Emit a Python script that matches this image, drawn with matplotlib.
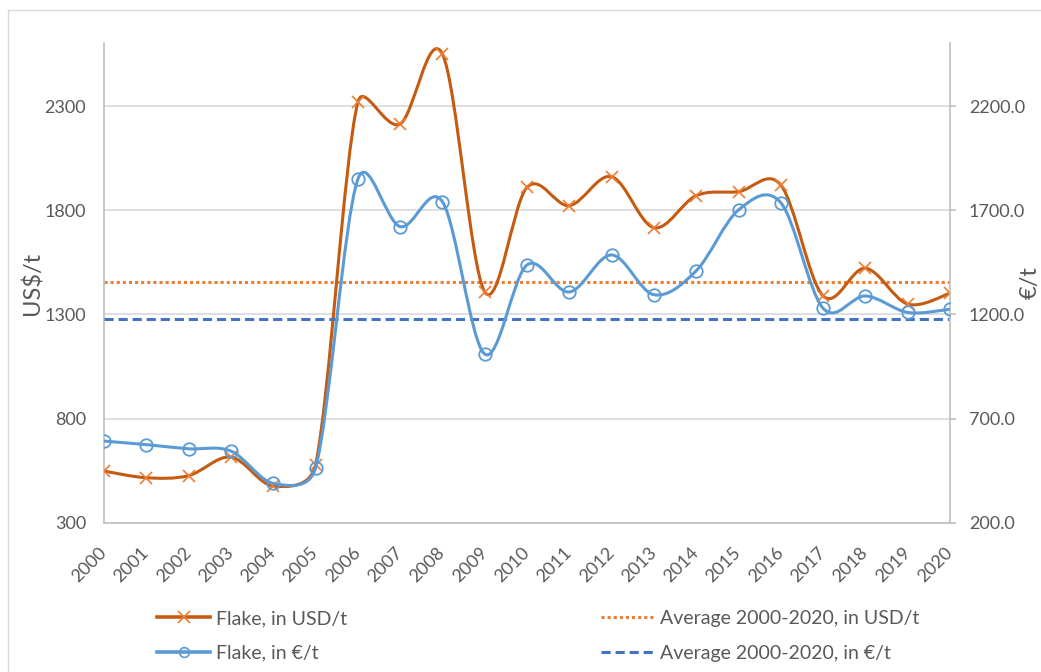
import matplotlib
matplotlib.use("Agg")
import matplotlib.pyplot as plt
from matplotlib.path import Path
from matplotlib.patches import PathPatch, Rectangle
from matplotlib.lines import Line2D
import matplotlib.transforms as mtrans
import numpy as np

plt.rcParams['font.family'] = ['Lato', 'DejaVu Sans']

years = [str(y) for y in range(2000, 2021)]
flake_usd = [548, 516, 526, 615, 476, 577, 2319, 2215, 2551, 1409, 1911, 1823,
             1962, 1717, 1871, 1890, 1922, 1389, 1522, 1350, 1402]
flake_eur = [592, 575, 555, 544, 389, 461, 1849, 1622, 1742, 1010, 1438, 1308,
             1486, 1295, 1410, 1702, 1737, 1230, 1289, 1210, 1225]
avg_usd = 1455
avg_eur = 1177
left_ticks = [300, 800, 1300, 1800, 2300]
right_ticks = [200, 700, 1200, 1700, 2200]

C_USD = '#C55A11'
C_USD_M = '#ED7D31'
C_EUR = '#5B9BD5'
C_AVG_USD = '#ED7D31'
C_AVG_EUR = '#4472C4'
GRID = '#D9D9D9'
TXT = '#595959'


def excel_smooth(axis, xs, ys, f=1 / 6):
    """Excel-like smoothed line: Catmull-Rom Bezier arms, each limited to half
    the segment length, computed in display space, returned in data space."""
    pts = axis.transData.transform(np.column_stack([xs, ys]).astype(float))
    n = len(pts)
    ext = np.vstack([pts[0], pts, pts[-1]])
    verts = [pts[0]]
    codes = [Path.MOVETO]
    for i in range(n - 1):
        p0, p1, p2, p3 = ext[i], ext[i + 1], ext[i + 2], ext[i + 3]
        d12 = np.linalg.norm(p2 - p1)
        d02 = np.linalg.norm(p2 - p0)
        d13 = np.linalg.norm(p3 - p1)
        f0 = f if d02 * f < d12 / 2 else (d12 / (2 * d02) if d02 > 0 else 0)
        f1 = f if d13 * f < d12 / 2 else (d12 / (2 * d13) if d13 > 0 else 0)
        c1 = p1 + (p2 - p0) * f0
        c2 = p2 - (p3 - p1) * f1
        verts += [c1, c2, p2]
        codes += [Path.CURVE4] * 3
    data = axis.transData.inverted().transform(np.array(verts))
    return Path(data, codes)


fig = plt.figure(figsize=(10.41, 6.72), dpi=100)
fig.patches.append(Rectangle((8 / 1041, -0.1), 1.2, 1 - 10 / 672 + 0.1,
                             transform=fig.transFigure, fill=False,
                             edgecolor='#D9D9D9', linewidth=1.0))

ax = fig.add_axes([104 / 1041, 1 - 522.7 / 672, (950 - 104) / 1041, (522.7 - 43) / 672])
ax2 = ax.twinx()

x = np.arange(len(years))

ax.set_xlim(0, len(years) - 1)
ax.set_ylim(300, 2604)
ax2.set_ylim(200, 2504)

ax.set_yticks(left_ticks)
ax.set_yticklabels([str(v) for v in left_ticks])
ax2.set_yticks(right_ticks)
ax2.set_yticklabels([f"{v:.1f}" for v in right_ticks])
ax.set_xticks(x)
ax.set_xticklabels(years, rotation=45, ha='right', va='center', rotation_mode='anchor')
shift = mtrans.ScaledTranslation(5 / 100, 0, fig.dpi_scale_trans)
for lab in ax.get_xticklabels():
    lab.set_transform(lab.get_transform() + shift)

ax.grid(axis='y', color=GRID, linewidth=1.2)
ax.set_axisbelow(True)

ax.spines['top'].set_visible(False)
ax2.spines['top'].set_visible(False)
for sp in [ax.spines['left'], ax.spines['bottom'], ax2.spines['right']]:
    sp.set_color('#BFBFBF')
    sp.set_linewidth(1.2)
ax.spines['right'].set_visible(False)
ax2.spines['left'].set_visible(False)
ax2.spines['bottom'].set_visible(False)

ax.tick_params(axis='y', length=0, labelsize=13, labelcolor=TXT, pad=13)
ax.tick_params(axis='x', length=0, labelsize=13, labelcolor=TXT, pad=20)
ax2.tick_params(axis='y', length=4.5, color='#BFBFBF', width=1.2, labelsize=13,
                labelcolor=TXT, pad=9)

# averages
ax.axhline(avg_usd, color=C_AVG_USD, linestyle=(0, (1, 1)), linewidth=2.2, zorder=2)
ax2.axhline(avg_eur, color=C_AVG_EUR, linestyle=(0, (3, 1.6)), linewidth=2.2, zorder=2)

# smooth lines
ax.add_patch(PathPatch(excel_smooth(ax, x, flake_usd), fill=False, edgecolor=C_USD,
                       linewidth=2.2, zorder=3, capstyle='round'))
ax.plot(x, flake_usd, linestyle='none', marker='x', markersize=8,
        markeredgecolor=C_USD_M, markeredgewidth=1.2, zorder=4)
ax2.add_patch(PathPatch(excel_smooth(ax2, x, flake_eur), fill=False, edgecolor=C_EUR,
                        linewidth=2.2, zorder=3, capstyle='round'))
ax2.plot(x, flake_eur, linestyle='none', marker='o', markersize=9,
         markerfacecolor='none', markeredgecolor=C_EUR, markeredgewidth=1.3, zorder=4)

fig.text(32 / 1041, 1 - 283 / 672, 'US$/t', rotation=90, ha='center', va='center',
         fontsize=17, color=TXT)
fig.text(1030 / 1041, 1 - 283 / 672, '€/t', rotation=90, ha='center', va='center',
         fontsize=17, color=TXT)

handles = [
    Line2D([], [], color=C_USD, linewidth=2.6, marker='x', markersize=8,
           markeredgecolor=C_USD_M, markeredgewidth=1.2),
    Line2D([], [], color=C_EUR, linewidth=2.6, marker='o', markersize=7,
           markerfacecolor='none', markeredgecolor=C_EUR, markeredgewidth=1.2),
    Line2D([], [], color=C_AVG_USD, linewidth=2.2, linestyle=(0, (1, 1))),
    Line2D([], [], color=C_AVG_EUR, linewidth=2.2, linestyle=(0, (3, 1.6))),
]
labels = ['Flake, in USD/t', 'Flake, in €/t', 'Average 2000-2020, in USD/t',
          'Average 2000-2020, in €/t']
leg = fig.legend(handles, labels, loc='upper left', bbox_to_anchor=(157 / 1041, 1 - 610 / 672),
                 ncol=2, frameon=False, fontsize=14, handlelength=2.73,
                 handletextpad=0.31, columnspacing=13.05, labelspacing=0.9,
                 borderpad=0, borderaxespad=0)
for t in leg.get_texts():
    t.set_color(TXT)

fig.savefig('out.png', dpi=100)
